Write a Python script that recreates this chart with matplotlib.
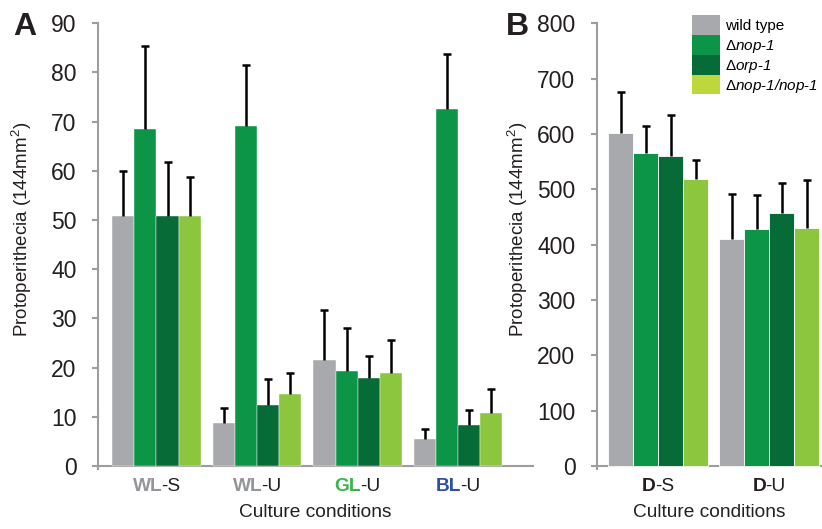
import matplotlib
matplotlib.use('Agg')
import matplotlib.pyplot as plt
import numpy as np
from matplotlib.patches import Patch

plt.rcParams['font.family'] = ['Liberation Sans', 'DejaVu Sans']
plt.rcParams['mathtext.fontset'] = 'custom'
plt.rcParams['mathtext.rm'] = 'Liberation Sans'
plt.rcParams['mathtext.it'] = 'Liberation Sans:italic'
plt.rcParams['mathtext.sf'] = 'Liberation Sans:italic'
plt.rcParams['mathtext.bf'] = 'Liberation Sans:bold'

# ---------------- data ----------------
series_labels = ["wild type",
                 "Δ$\\mathsf{nop}$-$\\mathsf{1}$",
                 "Δ$\\mathsf{orp}$-$\\mathsf{1}$",
                 "Δ$\\mathsf{nop}$-$\\mathsf{1/nop}$-$\\mathsf{1}$"]

# Panel A
cond_prefix_A = ["WL", "WL", "GL", "BL"]
cond_suffix_A = ["-S", "-U", "-U", "-U"]
prefix_colors_A = ["#939598", "#939598", "#39b54a", "#2e4fa3"]
wt_A = [50.8, 8.8, 21.6, 5.5]
wt_A_err = [9.1, 3.0, 10.2, 2.0]
nop_A = [68.6, 69.1, 19.3, 72.5]
nop_A_err = [16.7, 12.4, 8.7, 11.2]
orp_A = [50.8, 12.3, 17.8, 8.3]
orp_A_err = [11.0, 5.3, 4.5, 3.1]
comp_A = [50.8, 14.7, 18.8, 10.7]
comp_A_err = [7.9, 4.2, 6.9, 4.9]
yticks_A = [0, 10, 20, 30, 40, 50, 60, 70, 80, 90]

# Panel B
cond_prefix_B = ["D", "D"]
cond_suffix_B = ["-S", "-U"]
prefix_colors_B = ["#231f20", "#231f20"]
wt_B = [601, 410]
wt_B_err = [74, 81]
nop_B = [565, 428]
nop_B_err = [49, 62]
orp_B = [560, 458]
orp_B_err = [75, 54]
comp_B = [519, 430]
comp_B_err = [34, 87]
yticks_B = [0, 100, 200, 300, 400, 500, 600, 700, 800]

# ---------------- style ----------------
bar_colors = ["#a7a9ac", "#0c9447", "#076b38", "#8cc63f"]
legend_colors = ["#a7a9ac", "#0c9447", "#076b38", "#bed73c"]
axis_gray = "#9d9d9d"
txt = "#231f20"
LABEL_FS = 13.8

W, H = 822, 529
fig = plt.figure(figsize=(W / 100, H / 100), dpi=100)

top_px = 23.3
bot_px = 469.4
axA = fig.add_axes([98 / W, 1 - bot_px / H, (533 - 98) / W, (bot_px - top_px) / H])
axB = fig.add_axes([597 / W, 1 - bot_px / H, (822 - 597) / W, (bot_px - top_px) / H])


def draw_panel(ax, series, errs, width, xlim, ylim, yticks, edge_lw):
    n = len(series[0])
    x = np.arange(n)
    offs = (np.arange(len(series)) - (len(series) - 1) / 2) * width
    for k, (vals, e) in enumerate(zip(series, errs)):
        ax.bar(x + offs[k], vals, width=width, color=bar_colors[k],
               edgecolor='white', linewidth=edge_lw, zorder=2)
        eb = ax.errorbar(x + offs[k], vals, yerr=[np.zeros(n), e], fmt='none',
                         ecolor='black', elinewidth=1.8, capsize=3.2, capthick=1.8, zorder=3)
        # only the upper cap is shown
        eb[1][0].set_visible(False)
    ax.set_xlim(*xlim)
    ax.set_ylim(*ylim)
    ax.set_yticks(yticks)
    ax.set_xticks([])
    for s in ['top', 'right']:
        ax.spines[s].set_visible(False)
    ax.spines['bottom'].set_position(('data', 0))
    for s in ['left', 'bottom']:
        ax.spines[s].set_color(axis_gray)
        ax.spines[s].set_linewidth(1.5)
        ax.spines[s].set_zorder(1)
    ax.tick_params(axis='y', direction='out', length=4.5, width=1.5, color=axis_gray,
                   labelsize=16.5, labelcolor=txt, pad=11)
    ax.set_ylabel("Protoperithecia (144mm$^2$)", fontsize=13.5, color=txt)
    ax.set_xlabel("Culture conditions", fontsize=LABEL_FS, color=txt)


draw_panel(axA, [wt_A, nop_A, orp_A, comp_A], [wt_A_err, nop_A_err, orp_A_err, comp_A_err],
           0.219, (-0.582, 3.746), (-0.7, 90), yticks_A, 0.3)
draw_panel(axB, [wt_B, nop_B, orp_B, comp_B], [wt_B_err, nop_B_err, orp_B_err, comp_B_err],
           0.225, (-0.55, 1.477), (-6.2, 800), yticks_B, 0.6)

axA.yaxis.set_label_coords(-0.147, 0.537)
axB.yaxis.set_label_coords(-0.298, 0.537)
axA.xaxis.set_label_coords(0.5, -0.078)
axB.xaxis.set_label_coords(0.5, -0.078)

handles = [Patch(facecolor=c, edgecolor='none') for c in legend_colors]
axB.legend(handles, series_labels, loc='upper left',
           bbox_to_anchor=(692 / W, 1 - 15 / H), bbox_transform=fig.transFigure,
           frameon=False, borderpad=0, borderaxespad=0, labelspacing=0,
           handlelength=1.83, handleheight=1.62, handletextpad=0.3, fontsize=11)

fig.text(13 / W, 1 - 35 / H, "A", fontsize=23, fontweight='heavy', color=txt,
         ha='left', va='baseline')
fig.text(506 / W, 1 - 35 / H, "B", fontsize=23, fontweight='heavy', color=txt,
         ha='left', va='baseline')

# condition labels: coloured bold prefix followed by plain suffix, centred on each group
fig.canvas.draw()
renderer = fig.canvas.get_renderer()
YOFF = -15
KERN = -0.8  # points: pull the suffix up close to the prefix
for ax, prefixes, suffixes, pcolors in [(axA, cond_prefix_A, cond_suffix_A, prefix_colors_A),
                                        (axB, cond_prefix_B, cond_suffix_B, prefix_colors_B)]:
    for i, (p, s, c) in enumerate(zip(prefixes, suffixes, pcolors)):
        t1 = ax.annotate(p, xy=(i, 0), xycoords='data', xytext=(0, YOFF),
                         textcoords='offset points', ha='left', va='center',
                         fontweight='bold', color=c, fontsize=LABEL_FS, annotation_clip=False)
        t2 = ax.annotate(s, xy=(1, 0), xycoords=t1, xytext=(KERN, 0),
                         textcoords='offset points', ha='left', va='bottom',
                         color=txt, fontsize=LABEL_FS, annotation_clip=False)
        w1 = t1.get_window_extent(renderer).width
        w2 = t2.get_window_extent(renderer).width
        total = w1 + w2 + KERN * fig.dpi / 72
        t1.xyann = (-total / 2 * 72 / fig.dpi, YOFF)

fig.savefig("out.png", dpi=100)
